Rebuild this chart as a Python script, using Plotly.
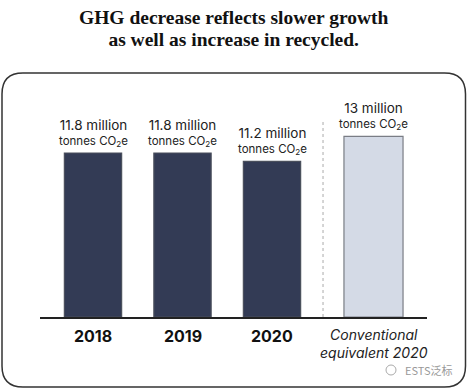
import plotly.graph_objects as go

# ---- data ----
categories = ["2018", "2019", "2020", "Conventional equivalent 2020"]
values = [11.8, 11.8, 11.2, 13.0]
value_labels = ["11.8 million", "11.8 million", "11.2 million", "13 million"]
unit_label = "tonnes CO<sub>2</sub>e"
x_labels = ["<b>2018</b>", "<b>2019</b>", "<b>2020</b>", "<i>Conventional<br>equivalent 2020</i>"]
title_lines = ["GHG decrease reflects slower growth", "as well as increase in recycled."]
watermark = "ESTS泛标"

# ---- layout geometry (pixels) ----
W, H = 468, 390
L, R, T, B = 40, 41, 100, 73
PW, PH = W - L - R, H - T - B


def px_x(px):
    return (px - L) / PW


def px_y(py):
    return (H - B - py) / PH


dark = "#333b55"
light = "#d4dae6"
conv_shift_px = 12
unit_px = 89.5
conv_offset = conv_shift_px / unit_px

bar_w = [0.64, 0.64, 0.64, 0.66]
offsets = [-w / 2 for w in bar_w]
offsets[3] += conv_offset

fig = go.Figure()
fig.add_trace(go.Bar(
    x=categories, y=values,
    width=bar_w, offset=offsets,
    marker=dict(color=[dark, dark, dark, light],
                line=dict(color=["#4a4f5c", "#4a4f5c", "#4a4f5c", "#7a7d85"], width=1.2)),
    hoverinfo="skip",
))

font_sans = "Inter, Roboto, sans-serif"
ann = []
for i, v in enumerate(values):
    xs = conv_shift_px if i == 3 else 0
    ann.append(dict(x=i, y=v, xref="x", yref="y",
                    text=f"<span style='font-size:13.5px'>{value_labels[i]}</span><br>{unit_label}",
                    showarrow=False, xshift=xs, yshift=2, yanchor="bottom",
                    font=dict(family=font_sans, size=11.5, color="#222")))
    if i < 3:
        ann.append(dict(x=i, y=0, xref="x", yref="y", text=x_labels[i], showarrow=False,
                        xshift=xs, yshift=-19, yanchor="middle",
                        font=dict(family=font_sans, size=16, color="#111")))
    else:
        ann.append(dict(x=i, y=0, xref="x", yref="y", text=x_labels[i], showarrow=False,
                        xshift=xs, yshift=-26, yanchor="middle",
                        font=dict(family=font_sans, size=14, color="#222")))

title_text = "<br>".join(f"<span style='font-size:19.5px'><b>{t}</b></span>" for t in title_lines)
ann.append(dict(x=px_x(234), y=px_y(28), xref="paper", yref="paper",
                text=title_text, showarrow=False, yanchor="middle",
                font=dict(family="Liberation Serif, serif", size=17, color="#111")))

ann.append(dict(x=px_x(454), y=px_y(370), xref="paper", yref="paper", text=watermark,
                showarrow=False, xanchor="right", yanchor="middle",
                font=dict(family="Noto Sans CJK SC, sans-serif", size=11, color="#999")))

# rounded frame
bx0, bx1, by0, by1, r = 2, 465.5, 73, 387, 21


def P(px, py):
    return f"{px_x(px):.5f},{px_y(py):.5f}"


path = (f"M {P(bx0 + r, by0)} L {P(bx1 - r, by0)} Q {P(bx1, by0)} {P(bx1, by0 + r)} "
        f"L {P(bx1, by1 - r)} Q {P(bx1, by1)} {P(bx1 - r, by1)} "
        f"L {P(bx0 + r, by1)} Q {P(bx0, by1)} {P(bx0, by1 - r)} "
        f"L {P(bx0, by0 + r)} Q {P(bx0, by0)} {P(bx0 + r, by0)} Z")

shapes = [
    dict(type="path", path=path, xref="paper", yref="paper",
         line=dict(color="#333", width=1.5), layer="below"),
    dict(type="line", xref="x", yref="y", x0=2.57, x1=2.57, y0=0, y1=14.05,
         line=dict(color="#aaaaaa", width=1, dash="3px,3px")),
    # small wechat-like watermark icon
    dict(type="circle", xref="paper", yref="paper",
         x0=px_x(386), x1=px_x(396), y0=px_y(375), y1=px_y(365),
         line=dict(color="#aaaaaa", width=1)),
]

fig.update_layout(
    width=W, height=H,
    margin=dict(l=L, r=R, t=T, b=B),
    paper_bgcolor="white", plot_bgcolor="white",
    showlegend=False,
    xaxis=dict(type="category", range=[-53 / unit_px, 334 / unit_px], showticklabels=False,
               showgrid=False, zeroline=False, showline=True, linecolor="#222", linewidth=1.5,
               ticks="", fixedrange=True),
    yaxis=dict(range=[0, PH / 13.9], visible=False, fixedrange=True),
    annotations=ann,
    shapes=shapes,
)

fig.write_html("out.html", config={"displayModeBar": False},
               post_script="document.body.style.margin='0';document.body.style.overflow='hidden';")
